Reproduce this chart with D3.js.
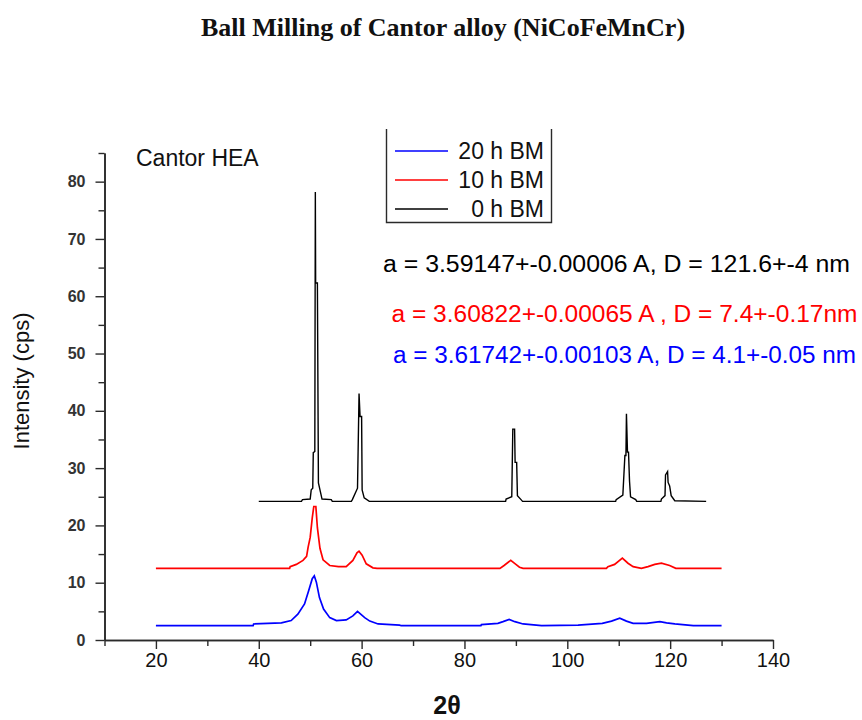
<!DOCTYPE html>
<html>
<head>
<meta charset="utf-8">
<script src="https://cdn.jsdelivr.net/npm/d3@7/dist/d3.min.js"></script>
<style>
  html, body { margin: 0; padding: 0; background: #fff; }
  svg { display: block; }
  text { font-family: "Liberation Sans", Arial, sans-serif; }
</style>
</head>
<body>
<svg id="chart" width="862" height="720"></svg>
<script>
// ---------- data ----------
const chartTitle = "Ball Milling of Cantor alloy (NiCoFeMnCr)";
const sampleLabel = "Cantor HEA";
const xLabel = "2θ";
const yLabel = "Intensity (cps)";

const xMajorTicks = [20, 40, 60, 80, 100, 120, 140];
const xMinorTicks = [10, 30, 50, 70, 90, 110, 130];
const yMajorTicks = [0, 10, 20, 30, 40, 50, 60, 70, 80];
const yMinorTicks = [5, 15, 25, 35, 45, 55, 65, 75, 85];

// 0 h BM (black)
const bm0h = [
  [40.0, 24.2], [48.3, 24.2], [48.5, 24.5], [50.0, 24.6], [50.2, 26.2], [50.5, 26.5],
  [50.6, 32.7], [50.9, 32.9], [51.0, 78.2], [51.06, 62.3], [51.4, 62.3], [51.6, 27.4],
  [52.0, 25.8], [52.3, 24.6], [54.1, 24.5], [54.3, 24.2], [58.0, 24.2], [58.2, 24.5],
  [59.2, 26.5], [59.5, 43.0], [59.7, 39.0], [60.0, 39.0], [60.1, 26.2], [60.5, 24.8],
  [61.5, 24.2], [88.0, 24.2], [88.1, 24.6], [89.2, 25.0], [89.4, 36.8], [89.75, 36.8],
  [89.85, 31.0], [90.15, 31.0], [90.3, 25.2], [91.0, 24.5], [91.3, 24.2], [109.4, 24.2],
  [109.5, 24.5], [110.8, 25.3], [111.2, 32.2], [111.4, 32.2], [111.5, 39.5], [111.7, 32.8],
  [111.9, 32.8], [112.1, 27.7], [112.3, 25.0], [113.3, 24.5], [113.5, 24.2], [118.2, 24.2],
  [118.3, 24.6], [119.0, 25.2], [119.1, 28.8], [119.5, 29.4], [119.6, 27.5], [119.9, 26.9],
  [120.2, 25.2], [120.9, 24.3], [127.0, 24.2]
];

// 10 h BM (red)
const bm10h = [
  [20.0, 12.5], [46.0, 12.5], [46.1, 12.8], [47.3, 13.2], [48.6, 13.9], [49.3, 14.6],
  [49.6, 16.2], [50.0, 17.9], [50.4, 21.3], [50.7, 23.3], [51.1, 23.3], [51.4, 19.6],
  [51.9, 16.0], [52.5, 14.0], [53.8, 13.0], [55.5, 12.8], [57.0, 12.8], [58.3, 13.9],
  [59.1, 15.2], [59.5, 15.5], [60.1, 14.8], [60.9, 13.3], [62.2, 12.6], [63.0, 12.5],
  [86.9, 12.5], [87.7, 13.0], [89.0, 13.9], [90.0, 13.2], [90.7, 12.7], [91.4, 12.5],
  [107.6, 12.5], [107.9, 12.8], [109.2, 13.2], [110.7, 14.3], [111.8, 13.4], [112.8, 12.8],
  [114.4, 12.5], [115.7, 12.8], [117.0, 13.2], [118.3, 13.4], [119.9, 13.0], [121.1, 12.5],
  [130.0, 12.5]
];

// 20 h BM (blue)
const bm20h = [
  [20.0, 2.5], [38.9, 2.5], [39.0, 2.8], [44.4, 3.0], [46.3, 3.4], [47.6, 4.5],
  [48.9, 6.3], [49.7, 8.6], [50.4, 10.7], [50.8, 11.2], [51.2, 10.1], [51.8, 7.4],
  [52.6, 5.4], [53.8, 3.9], [55.1, 3.4], [57.0, 3.5], [58.3, 4.2], [59.2, 5.0],
  [60.6, 3.9], [61.6, 3.3], [63.2, 2.8], [67.4, 2.6], [67.7, 2.5], [83.2, 2.5],
  [83.3, 2.7], [86.5, 2.9], [87.5, 3.2], [88.7, 3.6], [89.8, 3.2], [91.4, 2.8],
  [95.0, 2.5], [102.1, 2.6], [106.8, 2.9], [108.6, 3.3], [110.2, 3.8], [111.5, 3.3],
  [112.8, 2.9], [115.4, 2.9], [118.0, 3.2], [119.3, 3.0], [120.9, 2.8], [124.5, 2.5],
  [130.0, 2.5]
];

const seriesNames = ["20 h BM", "10 h BM", "0 h BM"];
const seriesColors = ["#0000ff", "#ff0000", "#000000"];
const annotations = [
  "a = 3.59147+-0.00006 A,  D = 121.6+-4 nm",
  "a = 3.60822+-0.00065 A , D = 7.4+-0.17nm",
  "a = 3.61742+-0.00103 A, D = 4.1+-0.05 nm"
];
const annotationColors = ["#000000", "#ff0000", "#0000ff"];

// ---------- drawing ----------
const svg = d3.select("#chart");
const x = d3.scaleLinear().domain([10, 140]).range([104.5, 773]);
const y = d3.scaleLinear().domain([0, 85]).range([640, 153]);
const axisColor = "#2a2a2a";

// title
svg.append("text")
  .attr("x", 443).attr("y", 36)
  .attr("text-anchor", "middle")
  .style("font-family", "'Liberation Serif', 'Times New Roman', serif")
  .style("font-weight", "bold")
  .style("font-size", "26px")
  .attr("fill", "#111")
  .text(chartTitle);

// axes
const gx = svg.append("g").attr("transform", `translate(0,${y(0)})`);
gx.call(d3.axisBottom(x).tickValues(xMajorTicks).tickSize(9).tickPadding(4).tickSizeOuter(0));
const gxm = svg.append("g").attr("transform", `translate(0,${y(0)})`);
gxm.call(d3.axisBottom(x).tickValues(xMinorTicks).tickSize(6).tickFormat("").tickSizeOuter(0));

const gy = svg.append("g").attr("transform", `translate(${x(10)},0)`);
gy.call(d3.axisLeft(y).tickValues(yMajorTicks).tickSize(9).tickPadding(10).tickSizeOuter(0));
const gym = svg.append("g").attr("transform", `translate(${x(10)},0)`);
gym.call(d3.axisLeft(y).tickValues(yMinorTicks).tickSize(6).tickFormat("").tickSizeOuter(0));

[gx, gxm, gy, gym].forEach(g => {
  g.selectAll(".domain").attr("stroke", axisColor).attr("stroke-width", 1.6);
  g.selectAll(".tick line").attr("stroke", axisColor).attr("stroke-width", 1.4);
});
gx.selectAll(".tick text")
  .style("font-size", "20px").attr("fill", "#111")
  .style("font-family", "'Liberation Sans', Arial, sans-serif");
gy.selectAll(".tick text")
  .style("font-size", "16px").style("font-weight", "bold").attr("fill", "#333")
  .style("font-family", "'Liberation Sans', Arial, sans-serif");

// axis labels
svg.append("text")
  .attr("transform", `translate(29,381) rotate(-90)`)
  .attr("text-anchor", "middle")
  .style("font-size", "22px").attr("fill", "#111")
  .text(yLabel);
svg.append("text")
  .attr("x", 447).attr("y", 714)
  .attr("text-anchor", "middle")
  .style("font-size", "25px").style("font-weight", "bold").attr("fill", "#111")
  .text(xLabel);

// series
const line = d3.line().x(d => x(d[0])).y(d => y(d[1]));
const seriesData = [bm20h, bm10h, bm0h];
seriesData.forEach((data, i) => {
  svg.append("path")
    .datum(data)
    .attr("fill", "none")
    .attr("stroke", seriesColors[i])
    .attr("stroke-width", i === 2 ? 1.4 : 1.7)
    .attr("stroke-linejoin", "miter")
    .attr("d", line);
});

// sample label
svg.append("text")
  .attr("x", 136).attr("y", 166)
  .style("font-size", "23px").attr("fill", "#111")
  .text(sampleLabel);

// legend (open-top box)
const lg = svg.append("g");
lg.append("path")
  .attr("d", "M386.5,129 V222.5 H551.5 V129")
  .attr("fill", "none").attr("stroke", axisColor).attr("stroke-width", 1.4);
const legendY = [151, 180, 209];
seriesNames.forEach((name, i) => {
  lg.append("line")
    .attr("x1", 395).attr("x2", 448)
    .attr("y1", legendY[i]).attr("y2", legendY[i])
    .attr("stroke", seriesColors[i]).attr("stroke-width", 1.5);
  lg.append("text")
    .attr("x", 544).attr("y", legendY[i] + 7.5)
    .attr("text-anchor", "end")
    .style("font-size", "23px").attr("fill", "#111")
    .text(name);
});

// annotations
const annX = [383, 391.5, 393];
const annY = [272, 322, 363];
const annW = [467, 466, 463];
annotations.forEach((t, i) => {
  svg.append("text")
    .attr("x", annX[i]).attr("y", annY[i])
    .attr("textLength", annW[i]).attr("lengthAdjust", "spacingAndGlyphs")
    .style("font-size", "23px").attr("fill", annotationColors[i])
    .text(t);
});
</script>
</body>
</html>
